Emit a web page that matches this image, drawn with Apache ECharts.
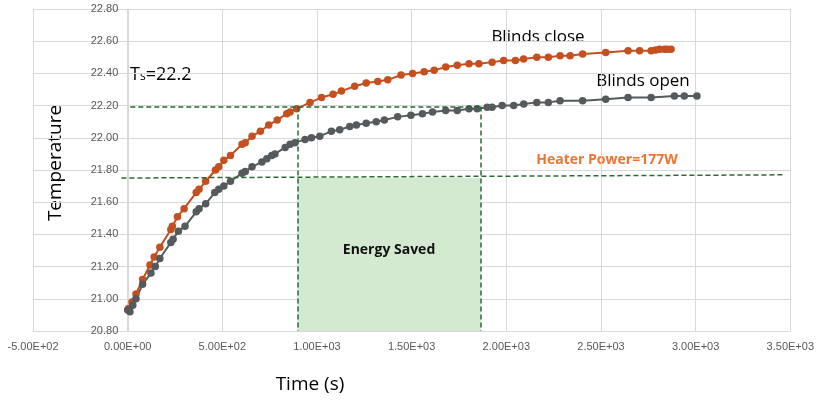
<!DOCTYPE html>
<html>
<head>
<meta charset="utf-8">
<script src="https://cdn.jsdelivr.net/npm/echarts@6/dist/echarts.min.js"></script>
<style>
  html, body { margin: 0; padding: 0; background: #fff; }
  #chart { width: 817px; height: 403px; }
</style>
</head>
<body>
<div id="chart"></div>
<script>
// blinds close (orange) - time (s), temperature
var closeTime = [5, 23, 44, 79, 118, 140, 170, 228, 236, 263, 298, 362, 377, 412, 464, 481, 508, 543, 604, 621, 657, 701, 745, 790, 840, 858, 893, 963, 1024, 1085, 1129, 1199, 1260, 1321, 1374, 1444, 1505, 1566, 1619, 1680, 1741, 1803, 1855, 1925, 1986, 2048, 2091, 2161, 2222, 2284, 2337, 2403, 2525, 2643, 2704, 2765, 2790, 2810, 2835, 2850, 2870]
var closeTemp = [20.94, 20.98, 21.03, 21.12, 21.21, 21.26, 21.32, 21.43, 21.45, 21.51, 21.56, 21.66, 21.68, 21.73, 21.80, 21.82, 21.86, 21.89, 21.96, 21.97, 22.01, 22.04, 22.08, 22.11, 22.15, 22.16, 22.18, 22.22, 22.25, 22.27, 22.29, 22.32, 22.34, 22.35, 22.36, 22.39, 22.40, 22.41, 22.42, 22.44, 22.45, 22.46, 22.46, 22.47, 22.48, 22.48, 22.49, 22.50, 22.50, 22.51, 22.51, 22.52, 22.53, 22.54, 22.54, 22.54, 22.545, 22.55, 22.55, 22.55, 22.55]

// blinds open (grey)
var openTime = [0, 12, 27, 44, 79, 123, 146, 170, 228, 240, 268, 303, 362, 377, 412, 460, 481, 508, 543, 604, 621, 657, 709, 735, 761, 778, 832, 858, 884, 937, 971, 1015, 1076, 1120, 1173, 1208, 1260, 1313, 1356, 1426, 1496, 1557, 1610, 1680, 1741, 1803, 1846, 1899, 1925, 1978, 2039, 2092, 2161, 2222, 2284, 2403, 2525, 2643, 2765, 2888, 2940, 3007]
var openTemp = [20.93, 20.92, 20.96, 21.00, 21.09, 21.16, 21.20, 21.25, 21.35, 21.37, 21.42, 21.45, 21.54, 21.56, 21.59, 21.66, 21.68, 21.70, 21.73, 21.78, 21.79, 21.82, 21.85, 21.87, 21.89, 21.90, 21.94, 21.96, 21.97, 21.99, 22.00, 22.01, 22.04, 22.05, 22.07, 22.08, 22.09, 22.10, 22.11, 22.13, 22.14, 22.15, 22.16, 22.17, 22.17, 22.18, 22.18, 22.19, 22.19, 22.20, 22.20, 22.21, 22.22, 22.22, 22.23, 22.23, 22.24, 22.25, 22.25, 22.26, 22.26, 22.26]

// annotation values
var setPoint = 22.194        // Ts line
var tCloseReach = 896        // time blinds close reaches Ts
var tOpenReach = 1865        // time blinds open reaches Ts
var heaterStart = [-33, 21.75]
var heaterEnd = [3458, 21.77]

var xTicks = [-500, 3500, 500]   // min, max, interval
var yTicks = [20.8, 22.8, 0.2]

function sci(v) {
  if (v === 0) return '0.00E+00'
  var e = Math.floor(Math.log10(Math.abs(v)) + 1e-9)
  var m = v / Math.pow(10, e)
  var ee = Math.abs(e)
  return m.toFixed(2) + 'E' + (e < 0 ? '-' : '+') + (ee < 10 ? '0' : '') + ee
}

function pairs(xs, ys) {
  return xs.map(function (x, i) { return [x, ys[i]] })
}

var chart = echarts.init(document.getElementById('chart'))
var dashGreen = { color: '#2b6a34', width: 1.5, type: [5, 3] }
var gridLeft = 33, gridRight = 22
// y axis sits on x = 0 like the Excel original
var plotW = 817 - gridLeft - gridRight
var yAxisShift = -plotW * (0 - xTicks[0]) / (xTicks[1] - xTicks[0])

var option = {
  animation: false,
  backgroundColor: '#fff',
  grid: { left: gridLeft, right: gridRight, top: 9, bottom: 72 },
  xAxis: {
    type: 'value',
    min: xTicks[0],
    max: xTicks[1],
    interval: xTicks[2],
    axisLine: { show: true, onZero: false, lineStyle: { color: '#d9d9d9', width: 1 } },
    axisTick: { show: false },
    splitLine: { show: true, lineStyle: { color: '#d9d9d9', width: 1 } },
    axisLabel: {
      color: '#595959',
      fontSize: 11,
      fontFamily: 'Liberation Sans',
      margin: 10,
      formatter: sci
    }
  },
  yAxis: {
    type: 'value',
    min: yTicks[0],
    max: yTicks[1],
    interval: yTicks[2],
    offset: yAxisShift,
    axisLine: { show: true, onZero: false, lineStyle: { color: '#d9d9d9', width: 1 } },
    axisTick: { show: false },
    splitLine: { show: true, lineStyle: { color: '#d9d9d9', width: 1 } },
    axisLabel: {
      color: '#595959',
      fontSize: 11,
      fontFamily: 'Liberation Sans',
      margin: 10,
      formatter: function (v) { return v.toFixed(2) }
    }
  },
  series: [
    {
      name: 'area',
      type: 'line',
      data: [],
      silent: true,
      markArea: {
        silent: true,
        itemStyle: { color: '#d3e9d0' },
        label: {
          show: true,
          position: 'inside',
          offset: [0, -5],
          color: '#111',
          fontSize: 14,
          fontWeight: 'bold',
          fontFamily: 'Open Sans'
        },
        data: [[
          { name: 'Energy Saved', coord: [tCloseReach, yTicks[0]] },
          { coord: [tOpenReach, heaterStart[1]] }
        ]]
      }
    },
    {
      name: 'Blinds close',
      type: 'line',
      data: pairs(closeTime, closeTemp),
      symbol: 'circle',
      symbolSize: 7.5,
      color: '#c4501f',
      lineStyle: { width: 2, color: '#c4501f' },
      itemStyle: { color: '#c4501f' }
    },
    {
      name: 'Blinds open',
      type: 'line',
      data: pairs(openTime, openTemp),
      symbol: 'circle',
      symbolSize: 7.5,
      color: '#555a5c',
      lineStyle: { width: 2, color: '#555a5c' },
      itemStyle: { color: '#555a5c' },
      markLine: {
        silent: true,
        symbol: 'none',
        label: { show: false },
        lineStyle: dashGreen,
        data: [
          [{ coord: [14, setPoint] }, { coord: [tOpenReach, setPoint] }],
          [{ coord: [tCloseReach, setPoint] }, { coord: [tCloseReach, yTicks[0]] }],
          [{ coord: [tOpenReach, setPoint] }, { coord: [tOpenReach, yTicks[0]] }],
          [{ coord: heaterStart }, { coord: heaterEnd }]
        ]
      }
    }
  ],
  graphic: [
    {
      type: 'text', x: 56, y: 163, rotation: Math.PI / 2,
      style: { text: 'Temperature', fontSize: 19, fontFamily: 'Open Sans', fill: '#000', align: 'center', verticalAlign: 'middle' }
    },
    {
      type: 'text', x: 310, y: 385,
      style: { text: 'Time (s)', fontSize: 19, fontFamily: 'Open Sans', fill: '#000', align: 'center', verticalAlign: 'middle' }
    },
    {
      type: 'text', x: 130, y: 75,
      style: {
        text: '{t|T}{s|s}{t|=22.2}',
        verticalAlign: 'middle',
        rich: {
          t: { fontSize: 18, fontFamily: 'Open Sans', fill: '#000', verticalAlign: 'bottom' },
          s: { fontSize: 12, fontFamily: 'Open Sans', fill: '#000', verticalAlign: 'bottom', padding: [0, 0, 1, 0] }
        }
      }
    },
    {
      type: 'text', x: 538, y: 37,
      style: { text: 'Blinds close', fontSize: 17, fontFamily: 'Open Sans', fill: '#000', align: 'center', verticalAlign: 'middle' }
    },
    {
      type: 'text', x: 643, y: 81,
      style: { text: 'Blinds open', fontSize: 17, fontFamily: 'Open Sans', fill: '#000', align: 'center', verticalAlign: 'middle' }
    },
    {
      type: 'text', x: 607, y: 160,
      style: { text: 'Heater Power=177W', fontSize: 14, fontWeight: 'bold', fontFamily: 'Open Sans', fill: '#ef7331', align: 'center', verticalAlign: 'middle' }
    }
  ]
}
chart.setOption(option)
</script>
</body>
</html>
